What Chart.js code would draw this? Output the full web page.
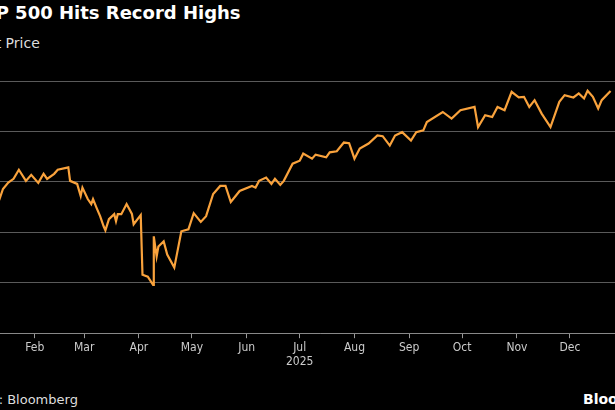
<!DOCTYPE html>
<html lang="en">
<head>
<meta charset="UTF-8">
<title>S&P 500 Hits Record Highs</title>
<style>
    html, body { margin: 0; padding: 0; background: #000; overflow: hidden; width: 615px; height: 410px; }
    body { position: relative; font-family: "DejaVu Sans", sans-serif; color: #fff; }
    .title { position: absolute; left: -33px; top: 2px; font-size: 18px; font-weight: bold; white-space: nowrap; }
    .sub { position: absolute; left: -28px; top: 35px; font-size: 14px; color: #ddd; white-space: nowrap; }
    .src { position: absolute; left: -46px; top: 392px; font-size: 13px; color: #ddd; white-space: nowrap; }
    .brand { position: absolute; left: 583px; top: 391px; font-size: 14px; font-weight: bold; white-space: nowrap; }
    #wrap { position: absolute; left: -20px; top: 79px; width: 680px; height: 292px; }
</style>
<script src="https://cdn.jsdelivr.net/npm/chart.js"></script>
</head>
<body>
<div class="title">S&amp;P 500 Hits Record Highs</div>
<div class="sub">Last Price</div>
<div id="wrap"><canvas id="chart"></canvas></div>
<div class="src">Source: Bloomberg</div>
<div class="brand">Bloomberg</div>
<script>
// day of year 2025 and closing level
var days = [2, 6, 9, 11, 13, 16, 19, 22, 26, 29, 33, 36, 38, 42, 44, 50, 51, 55, 57, 58, 61, 63, 64, 66, 68, 70, 71, 73,
    76, 77, 78, 80, 83, 86, 87, 91, 92, 95, 98, 98.4, 100, 101, 104, 106, 110, 114, 118, 121, 125, 128, 132, 136, 139, 142,
    147, 154, 156, 158, 162, 165, 167, 170, 172, 177, 181, 183, 188, 190, 196, 198, 202, 206, 209, 212, 215, 220, 225, 228,
    232, 235, 239, 244, 247, 251, 253, 262, 267, 272, 280, 282, 286, 290, 293, 297, 301, 305, 308, 311, 314, 318, 323, 328,
    331, 336, 339, 342, 344, 347, 350, 352, 357];
var prices = [5870, 5920, 5830, 5827, 5930, 5993, 6030, 6120, 6010, 6070, 5990, 6080, 6030, 6080, 6120, 6143, 6010, 5980, 5860, 5943, 5830, 5780, 5830, 5743,
    5660, 5560, 5520, 5630, 5680, 5610, 5680, 5680, 5780, 5683, 5580, 5670, 5080, 5060, 4980, 5460, 5260, 5360, 5410, 5280,
    5150, 5510, 5530, 5690, 5603, 5660, 5880, 5960, 5960, 5800, 5910, 5960, 5943, 6010, 6043, 5980, 6030, 5970, 6010, 6180,
    6210, 6280, 6230, 6270, 6243, 6293, 6303, 6390, 6383, 6230, 6330, 6380, 6460, 6453, 6360, 6460, 6493, 6410, 6493, 6510,
    6593, 6693, 6627, 6710, 6743, 6543, 6660, 6643, 6743, 6710, 6893, 6837, 6843, 6743, 6810, 6677, 6543, 6793, 6860, 6837,
    6877, 6827, 6903, 6843, 6727, 6810, 6900];
var monthDays = [31, 59, 90, 120, 151, 181, 212, 243, 273, 304, 334];
var monthLabels = ['Feb', 'Mar', 'Apr', 'May', 'Jun', 'Jul', 'Aug', 'Sep', 'Oct', 'Nov', 'Dec'];
var yearLabel = '2025';
var gridLevels = [4500, 5000, 5500, 6000, 6500, 7000];

var points = days.map(function (d, i) { return { x: d, y: prices[i] }; });

new Chart(document.getElementById('chart'), {
    type: 'line',
    data: {
        datasets: [{
            data: points,
            borderColor: '#f9a23c',
            borderWidth: 2.2,
            pointRadius: 0,
            tension: 0
        }]
    },
    options: {
        responsive: true,
        maintainAspectRatio: false,
        animation: false,
        layout: { padding: { top: 2, left: 0, right: 0, bottom: 0 } },
        plugins: { legend: { display: false }, tooltip: { enabled: false } },
        scales: {
            x: {
                type: 'linear', min: 0, max: 385,
                afterBuildTicks: function (axis) {
                    axis.ticks = monthDays.map(function (v) { return { value: v }; });
                },
                ticks: {
                    autoSkip: false, maxRotation: 0, padding: 2,
                    color: '#ccc',
                    font: { family: 'DejaVu Sans Condensed', size: 12 },
                    callback: function (v, i) {
                        return monthLabels[i] === 'Jul' ? ['Jul', yearLabel] : monthLabels[i];
                    }
                },
                grid: { drawOnChartArea: false, tickLength: 5, color: '#999' },
                border: { color: '#888' }
            },
            y: {
                min: 4500, max: 7000,
                afterBuildTicks: function (axis) {
                    axis.ticks = gridLevels.map(function (v) { return { value: v }; });
                },
                ticks: { display: false },
                grid: { color: '#5a5a5a', drawTicks: false },
                border: { display: false }
            }
        }
    }
});
</script>
</body>
</html>
